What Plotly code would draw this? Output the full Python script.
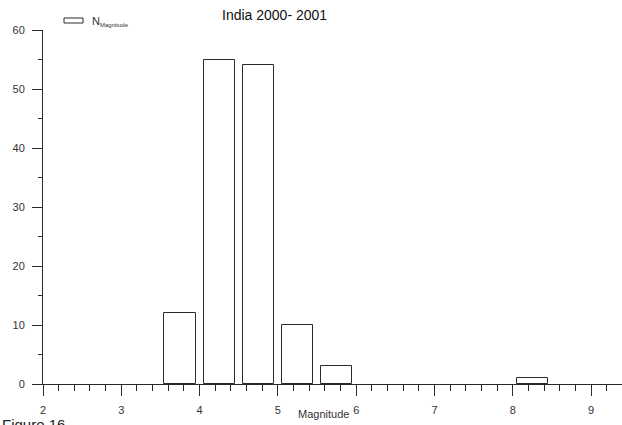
import plotly.graph_objects as go

# Data
magnitude_bins = [3.75, 4.25, 4.75, 5.25, 5.75, 8.25]
counts = [12, 55, 54, 10, 3, 1]
bar_width = 0.4
title_text = "India 2000- 2001"
x_title = "Magnitude"
legend_name = "N<sub><span style='font-size:6px'>Magnitude</span></sub>"
caption = "Figure 16"

W, H = 622, 425
L, R, T, B = 43, 0, 30, 41
PW, PH = W - L - R, H - T - B
px_per_unit = 78.3
x0 = 2
x1 = x0 + PW / px_per_unit


def px(xp):
    return (xp - L) / PW


def py(yp):
    return 1 - (yp - T) / PH


fig = go.Figure()
fig.add_trace(go.Bar(
    x=magnitude_bins, y=counts, width=bar_width,
    marker=dict(color="white", line=dict(color="#2a2a2a", width=1)),
    name=legend_name, showlegend=False, hoverinfo="skip",
))

font = dict(family="Liberation Sans, Arial, sans-serif", size=11, color="#333333")

fig.update_layout(
    width=W, height=H,
    margin=dict(l=L, r=R, t=T, b=B, pad=0),
    plot_bgcolor="white", paper_bgcolor="white",
    font=font,
    bargap=0,
    xaxis=dict(
        range=[x0, x1], showgrid=False, zeroline=False,
        showline=True, linecolor="#2a2a2a", linewidth=1,
        ticks="outside", ticklen=11, tickcolor="#2a2a2a", tickwidth=1,
        tick0=2, dtick=1, tickfont=dict(size=11, color="#333333"),
        ticklabelstandoff=5,
        minor=dict(dtick=0.2, tick0=2, ticks="outside", ticklen=6, tickcolor="#2a2a2a", showgrid=False),
    ),
    yaxis=dict(
        range=[0, 60], showgrid=False, zeroline=False,
        showline=True, linecolor="#2a2a2a", linewidth=1,
        ticks="outside", ticklen=10, tickcolor="#2a2a2a", tickwidth=1,
        tick0=0, dtick=10, tickfont=dict(size=11, color="#333333"),
        ticklabelstandoff=5,
        minor=dict(dtick=5, ticks="outside", ticklen=4, tickcolor="#2a2a2a", showgrid=False),
    ),
)

# Title
fig.add_annotation(text=title_text, xref="paper", yref="paper", x=px(274.5), y=py(15.5),
                   xanchor="center", yanchor="middle", showarrow=False,
                   font=dict(size=14, color="#111111", family="Liberation Sans, Arial, sans-serif"))
# X axis title
fig.add_annotation(text=x_title, xref="paper", yref="paper", x=px(323), y=py(414),
                   xanchor="center", yanchor="middle", showarrow=False,
                   font=dict(size=11, color="#333333"))
# Legend (symbol + label)
fig.add_shape(type="rect", xref="paper", yref="paper",
              x0=px(64), x1=px(83), y0=py(23), y1=py(18),
              line=dict(color="#2a2a2a", width=1), fillcolor="white")
fig.add_annotation(text=legend_name, xref="paper", yref="paper", x=px(90), y=py(21),
                   xanchor="left", yanchor="middle", showarrow=False,
                   font=dict(size=11, color="#333333"))
# Figure caption (cut off at bottom as in the reference)
fig.add_annotation(text=caption, xref="paper", yref="paper", x=px(0), y=py(414),
                   xanchor="left", yanchor="top", showarrow=False,
                   font=dict(size=15, color="#222222"))

fig.write_html("out.html", config={"displayModeBar": False},
               post_script="document.body.style.margin='0';document.body.style.overflow='hidden';")
